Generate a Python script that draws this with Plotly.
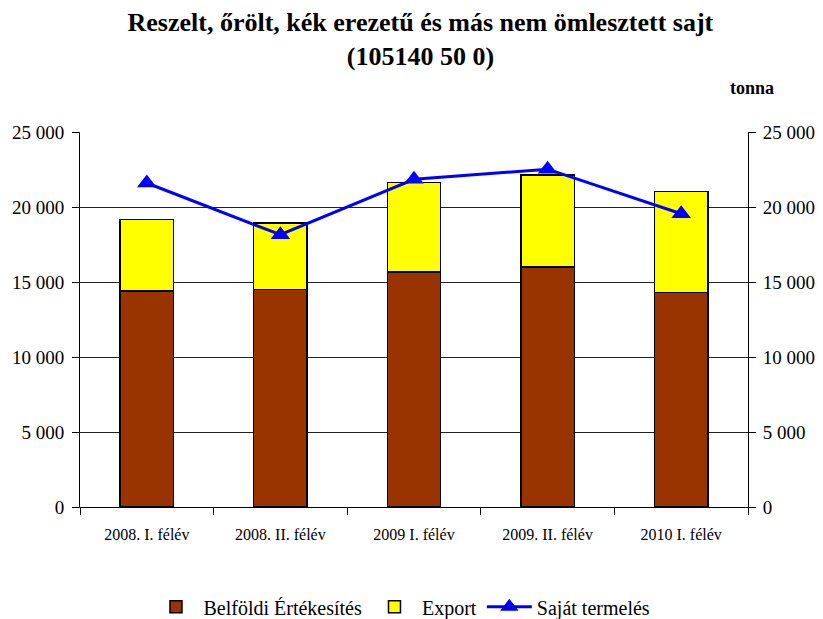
import plotly.graph_objects as go

categories = ["2008. I. félév", "2008. II. félév", "2009 I. félév", "2009. II. félév", "2010 I. félév"]
belfoldi = [14400, 14500, 15670, 16000, 14290]
export = [4780, 4450, 5980, 6130, 6760]
sajat_termeles = [21600, 18150, 21850, 22520, 19550]

FONT = "Liberation Serif, Times New Roman, serif"

fig = go.Figure()
fig.add_trace(go.Bar(
    x=categories, y=belfoldi, name="Belföldi Értékesítés",
    marker=dict(color="#993300", line=dict(color="#000000", width=1.5)),
))
fig.add_trace(go.Bar(
    x=categories, y=export, name="Export",
    marker=dict(color="#FFFF00", line=dict(color="#000000", width=1.5)),
))
fig.add_trace(go.Scatter(
    x=categories, y=sajat_termeles, name="Saját termelés", yaxis="y2",
    mode="lines+markers",
    line=dict(color="#0000FF", width=3),
    marker=dict(symbol="triangle-up", size=17, color="#0000FF"),
))

# page body adds 8px offset, so the figure is a bit smaller than the window
fig.update_layout(
    width=815, height=611,
    paper_bgcolor="white", plot_bgcolor="white",
    font=dict(family=FONT, size=17, color="#000000"),
    separators=", ",
    barmode="stack", bargap=0.6,
    margin=dict(l=72, r=75, t=124, b=112),
    title=dict(
        text="<b>Reszelt, őrölt, kék erezetű és más nem ömlesztett sajt<br>(105140 50 0)</b>",
        x=0.506, xanchor="center", y=0.962, yanchor="top",
        font=dict(family=FONT, size=26),
    ),
    xaxis=dict(
        showline=True, linecolor="#000000", linewidth=1,
        ticks="outside", tickson="boundaries", ticklen=7, tickcolor="#000000",
        showgrid=False, tickfont=dict(size=16), ticklabelstandoff=13,
        automargin=False,
    ),
    yaxis=dict(
        range=[0, 25000], dtick=5000, tickformat=",d",
        showline=True, linecolor="#000000", linewidth=1,
        ticks="outside", ticklen=7, tickcolor="#000000",
        showgrid=True, gridcolor="#222222", gridwidth=1,
        zeroline=False, tickfont=dict(size=19), ticklabelstandoff=4,
        automargin=False,
    ),
    yaxis2=dict(
        range=[0, 25000], dtick=5000, tickformat=",d",
        overlaying="y", side="right",
        showline=True, linecolor="#000000", linewidth=1,
        ticks="outside", ticklen=7, tickcolor="#000000",
        showgrid=False, zeroline=False, tickfont=dict(size=19), ticklabelstandoff=3,
        automargin=False,
    ),
    legend=dict(
        orientation="h", traceorder="normal", itemwidth=45,
        x=0.482, xanchor="center", yref="container", y=0.02, yanchor="middle",
        font=dict(family=FONT, size=20),
    ),
    annotations=[dict(
        text="<b>tonna</b>", xref="paper", yref="paper",
        x=1.042, y=1.117, xanchor="right", yanchor="middle",
        showarrow=False, font=dict(family=FONT, size=18),
    )],
)

fig.write_html("out.html")
